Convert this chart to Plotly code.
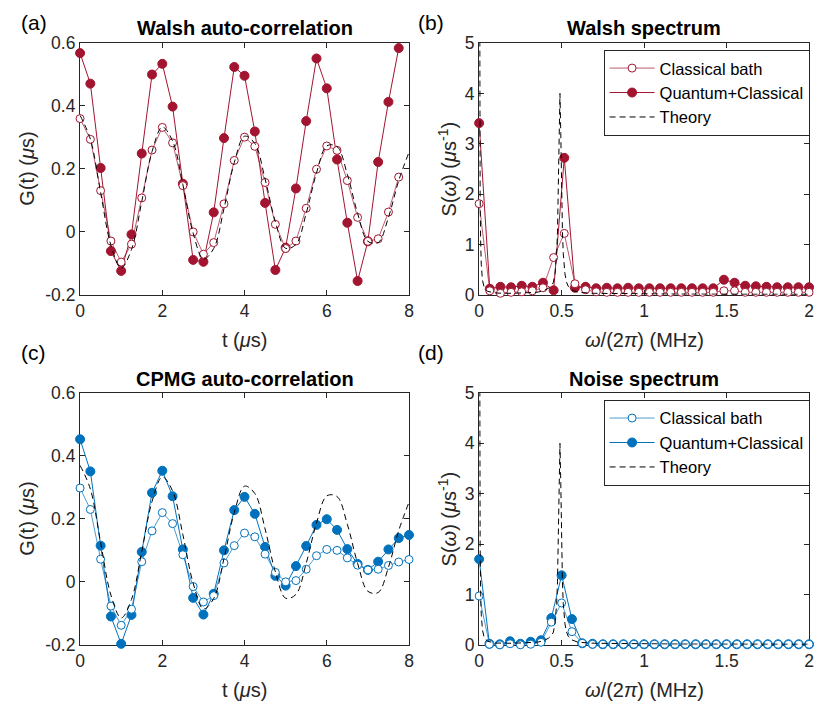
import numpy as np
import plotly.graph_objects as go

# ---------------- data ----------------
t_walsh = [0, 0.25, 0.5, 0.75, 1.0, 1.25, 1.5, 1.75, 2.0, 2.25, 2.5, 2.75, 3.0, 3.25, 3.5, 3.75,
           4.0, 4.25, 4.5, 4.75, 5.0, 5.25, 5.5, 5.75, 6.0, 6.25, 6.5, 6.75, 7.0, 7.25, 7.5, 7.75]
walsh_classical = [0.360, 0.294, 0.131, -0.029, -0.096, -0.039, 0.108, 0.260, 0.332, 0.283, 0.147, 0.000,
                   -0.071, -0.034, 0.089, 0.227, 0.301, 0.272, 0.157, 0.024, -0.053, -0.029, 0.075, 0.199,
                   0.273, 0.259, 0.163, 0.046, -0.030, -0.022, 0.063, 0.174]
walsh_quantum = [0.568, 0.471, 0.203, -0.061, -0.124, -0.008, 0.249, 0.500, 0.534, 0.398, 0.153, -0.089,
                 -0.095, 0.062, 0.298, 0.524, 0.496, 0.319, 0.092, -0.121, -0.050, 0.138, 0.352, 0.551,
                 0.456, 0.230, 0.029, -0.156, -0.030, 0.222, 0.413, 0.584]

t_cpmg = [0, 0.25, 0.5, 0.75, 1.0, 1.25, 1.5, 1.75, 2.0, 2.25, 2.5, 2.75, 3.0, 3.25, 3.5, 3.75,
          4.0, 4.25, 4.5, 4.75, 5.0, 5.25, 5.5, 5.75, 6.0, 6.25, 6.5, 6.75, 7.0, 7.25, 7.5, 7.75, 8.0]
cpmg_classical = [0.298, 0.230, 0.072, -0.077, -0.138, -0.087, 0.064, 0.162, 0.220, 0.185, 0.086, -0.015,
                  -0.064, -0.044, 0.060, 0.115, 0.155, 0.143, 0.088, 0.030, 0.000, 0.004, 0.040, 0.083,
                  0.103, 0.100, 0.076, 0.053, 0.038, 0.040, 0.052, 0.063, 0.071]
cpmg_quantum = [0.453, 0.351, 0.115, -0.110, -0.197, -0.105, 0.095, 0.283, 0.353, 0.272, 0.103, -0.051,
                -0.104, -0.038, 0.100, 0.228, 0.270, 0.216, 0.111, 0.019, -0.012, 0.050, 0.114, 0.181,
                0.199, 0.165, 0.104, 0.057, 0.038, 0.064, 0.103, 0.139, 0.149]

# theory auto-correlation (same curve in both panels)
t_theory = [0, 0.25, 0.5, 0.75, 1.0, 1.25, 1.5, 1.75, 2.0, 2.25, 2.5, 2.75, 3.0, 3.25, 3.5, 3.75,
            4.0, 4.25, 4.5, 4.75, 5.0, 5.25, 5.5, 5.75, 6.0, 6.25, 6.5, 6.75, 7.0, 7.25, 7.5, 7.75, 8.0]
G_theory = [0.370, 0.295, 0.125, -0.042, -0.115, -0.056, 0.096, 0.255, 0.333, 0.289, 0.150, -0.004,
            -0.086, -0.053, 0.074, 0.220, 0.304, 0.281, 0.168, 0.032, -0.052, -0.040, 0.059, 0.187,
            0.273, 0.271, 0.183, 0.059, -0.030, -0.034, 0.046, 0.163, 0.253]

# spectra
f_walsh = list(np.arange(32) * 2 / 31)
walsh_S_quantum = [3.41, 0.12, 0.16, 0.15, 0.18, 0.16, 0.24, 0.09, 2.72, 0.14, 0.16, 0.13, 0.14, 0.13, 0.14, 0.13,
                   0.13, 0.13, 0.13, 0.13, 0.13, 0.13, 0.13, 0.30, 0.24, 0.18, 0.17, 0.16, 0.15, 0.15, 0.15, 0.15]
walsh_S_classical = [1.81, 0.08, 0.03, 0.05, 0.06, 0.08, 0.14, 0.74, 1.22, 0.22, 0.10, 0.06, 0.05, 0.05, 0.05, 0.05,
                     0.05, 0.05, 0.05, 0.05, 0.05, 0.05, 0.05, 0.08, 0.08, 0.05, 0.05, 0.05, 0.05, 0.05, 0.05, 0.05]

f_cpmg = list(np.arange(33) / 16)
cpmg_S_quantum = [1.70, 0.02, 0.01, 0.07, 0.02, 0.06, 0.09, 0.53, 1.38, 0.51, 0.03, 0.02, 0.01, 0.01, 0.01, 0.01,
                  0.01, 0.01, 0.01, 0.01, 0.01, 0.01, 0.01, 0.01, 0.01, 0.01, 0.01, 0.01, 0.01, 0.01, 0.01, 0.01, 0.01]
cpmg_S_classical = [0.97, 0.01, 0.00, 0.02, 0.00, 0.01, 0.05, 0.45, 0.83, 0.26, 0.03, 0.01, 0.01, 0.01, 0.01, 0.01,
                    0.01, 0.01, 0.01, 0.01, 0.01, 0.01, 0.01, 0.01, 0.01, 0.01, 0.01, 0.01, 0.01, 0.01, 0.01, 0.01, 0.01]

f_theory = [0, 0.002, 0.004, 0.006, 0.009, 0.013, 0.02, 0.03, 0.05, 0.1, 0.2, 0.3, 0.35, 0.39, 0.42, 0.44,
            0.45, 0.46, 0.47, 0.475, 0.48, 0.485, 0.49, 0.495, 0.5, 0.505, 0.51, 0.52, 0.53, 0.54, 0.56,
            0.6, 0.7, 0.9, 1.2, 1.6, 2.0]
S_theory = [12.0, 6.5, 3.6, 2.0, 1.1, 0.6, 0.3, 0.15, 0.07, 0.035, 0.03, 0.035, 0.05, 0.08, 0.13, 0.19,
            0.25, 0.42, 0.82, 1.25, 2.0, 3.2, 4.0, 3.2, 2.0, 1.25, 0.82, 0.42, 0.25, 0.17, 0.10,
            0.05, 0.03, 0.02, 0.015, 0.012, 0.01]

# ---------------- style ----------------
W, H = 818, 717
RED = "#A2142F"
BLUE = "#0072BD"
AX = "#262626"
FONT = "Liberation Sans, Arial, Helvetica, sans-serif"
DASH = "6px,4px"

def px(x):
    return x / W

def py(y):
    return 1 - y / H

fig = go.Figure()

def add_panel(xa, ya, x, yq, yc, color, xt, yt, legend=None):
    fig.add_trace(go.Scatter(
        x=x, y=yq, mode="lines+markers", name="Quantum+Classical", xaxis=xa, yaxis=ya,
        line=dict(color=color, width=1.0),
        marker=dict(symbol="circle", size=9, color=color, line=dict(color=color, width=1)),
        cliponaxis=False, showlegend=legend is not None, legend=legend or "legend", legendrank=2))
    fig.add_trace(go.Scatter(
        x=x, y=yc, mode="lines+markers", name="Classical bath", xaxis=xa, yaxis=ya,
        line=dict(color=color, width=0.7),
        marker=dict(symbol="circle", size=8, color="white", line=dict(color=color, width=1)),
        cliponaxis=False, showlegend=legend is not None, legend=legend or "legend", legendrank=1))
    fig.add_trace(go.Scatter(
        x=xt, y=yt, mode="lines", name="Theory", xaxis=xa, yaxis=ya,
        line=dict(color="black", width=1, dash=DASH, shape="spline" if legend is None else "linear"),
        showlegend=legend is not None, legend=legend or "legend", legendrank=3))

add_panel("x", "y", t_walsh, walsh_quantum, walsh_classical, RED, t_theory, G_theory)
add_panel("x2", "y2", f_walsh, walsh_S_quantum, walsh_S_classical, RED, f_theory, S_theory, legend="legend")
add_panel("x3", "y3", t_cpmg, cpmg_quantum, cpmg_classical, BLUE, t_theory, G_theory)
add_panel("x4", "y4", f_cpmg, cpmg_S_quantum, cpmg_S_classical, BLUE, f_theory, S_theory, legend="legend2")

L_left, L_right = 76, 409
R_left, R_right = 480, 814
T_top, T_bot = 34, 293
B_top, B_bot = 394, 653

def axis(domain, rng, tickvals, ticktext, anchor):
    return dict(domain=domain, range=rng, tickvals=tickvals, ticktext=ticktext, anchor=anchor,
                showline=True, linecolor=AX, linewidth=1.3, mirror="allticks", ticks="inside",
                ticklen=5, tickwidth=1, tickcolor=AX, showgrid=False, zeroline=False,
                tickfont=dict(family=FONT, size=17.5, color=AX), layer="below traces", fixedrange=True)

tx = [0, 2, 4, 6, 8]
txt = ["0", "2", "4", "6", "8"]
gy = [-0.2, 0, 0.2, 0.4, 0.6]
gyt = ["-0.2", "0", "0.2", "0.4", "0.6"]
fx = [0, 0.5, 1, 1.5, 2]
fxt = ["0", "0.5", "1", "1.5", "2"]
sy = [0, 1, 2, 3, 4, 5]
syt = ["0", "1", "2", "3", "4", "5"]

dxL = [px(L_left), px(L_right)]
dxR = [px(R_left), px(R_right)]
dyT = [py(T_bot), py(T_top)]
dyB = [py(B_bot), py(B_top)]

leg = dict(xanchor="left", yanchor="top", bgcolor="white",
           bordercolor=AX, borderwidth=1, font=dict(family=FONT, size=16.5, color="black"),
           tracegroupgap=0, itemwidth=45, traceorder="normal")

fig.update_layout(
    width=W, height=H, margin=dict(l=0, r=0, t=0, b=0),
    paper_bgcolor="white", plot_bgcolor="white",
    font=dict(family=FONT, size=17, color=AX),
    xaxis=axis(dxL, [0, 8], tx, txt, "y"),
    yaxis=axis(dyT, [-0.2, 0.6], gy, gyt, "x"),
    xaxis2=axis(dxR, [0, 2], fx, fxt, "y2"),
    yaxis2=axis(dyT, [0, 5], sy, syt, "x2"),
    xaxis3=axis(dxL, [0, 8], tx, txt, "y3"),
    yaxis3=axis(dyB, [-0.2, 0.6], gy, gyt, "x3"),
    xaxis4=axis(dxR, [0, 2], fx, fxt, "y4"),
    yaxis4=axis(dyB, [0, 5], sy, syt, "x4"),
    legend=dict(x=px(606), y=py(41), **leg),
    legend2=dict(x=px(606), y=py(401), **leg),
    showlegend=True,
)

ann = []
def text(x, y, s, size=20, bold=False, angle=0, color="black"):
    ann.append(dict(x=px(x), y=py(y), xref="paper", yref="paper", text=("<b>%s</b>" % s) if bold else s,
                    showarrow=False, xanchor="center", yanchor="middle", textangle=angle,
                    font=dict(family=FONT, size=size, color=color)))

# titles
text((L_left + L_right) / 2, 19, "Walsh auto-correlation", size=20, bold=True)
text((R_left + R_right) / 2, 19, "Walsh spectrum", size=20, bold=True)
text((L_left + L_right) / 2, 380, "CPMG auto-correlation", size=20, bold=True)
text((R_left + R_right) / 2, 380, "Noise spectrum", size=20, bold=True)
# panel labels
text(29, 13, "(a)", size=21)
text(431, 13, "(b)", size=21)
text(29, 352, "(c)", size=21)
text(431, 352, "(d)", size=21)
# axis labels
text((L_left + L_right) / 2, 339, "t (<i>μ</i>s)", color=AX)
text((R_left + R_right) / 2, 339, "<i>ω</i>/(2<i>π</i>) (MHz)", color=AX)
text((L_left + L_right) / 2, 699, "t (<i>μ</i>s)", color=AX)
text((R_left + R_right) / 2, 699, "<i>ω</i>/(2<i>π</i>) (MHz)", color=AX)
text(22, (T_top + T_bot) / 2, "G(t) (<i>μ</i>s)", angle=-90, color=AX)
text(22, (B_top + B_bot) / 2, "G(t) (<i>μ</i>s)", angle=-90, color=AX)
text(448, (T_top + T_bot) / 2, "S(<i>ω</i>) (<i>μ</i>s<sup>-1</sup>)", angle=-90, color=AX)
text(448, (B_top + B_bot) / 2, "S(<i>ω</i>) (<i>μ</i>s<sup>-1</sup>)", angle=-90, color=AX)
fig.update_layout(annotations=ann)

fig.write_html("out.html",
               post_script="document.body.style.margin='0';document.body.style.overflow='hidden';")
